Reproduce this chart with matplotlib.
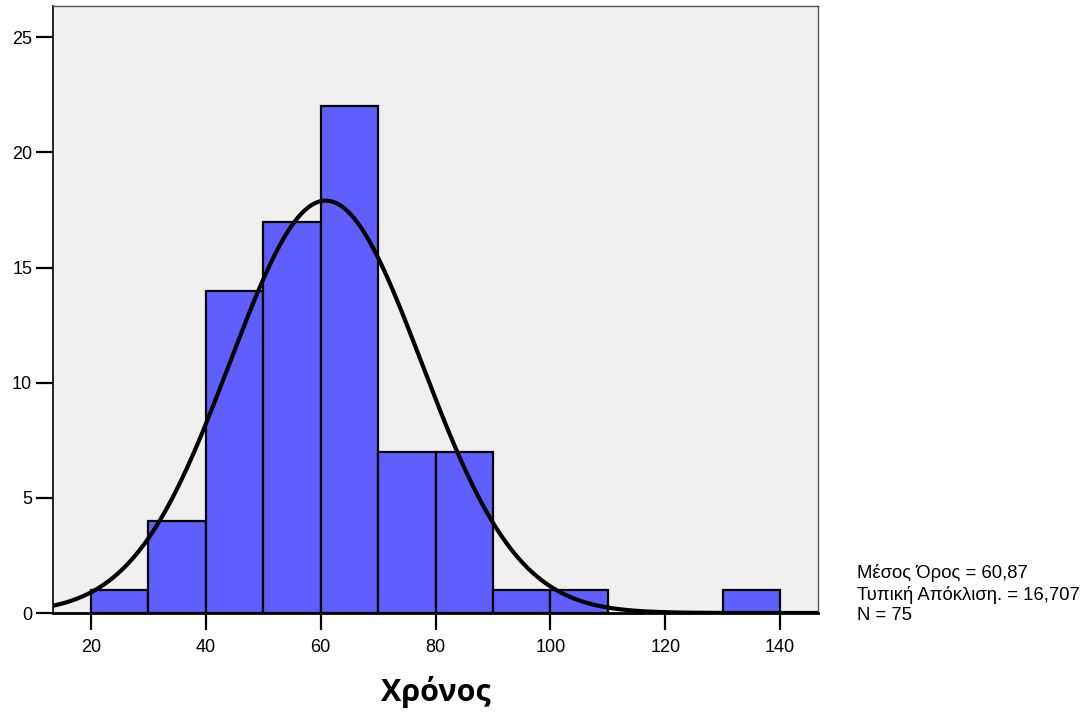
import numpy as np
import matplotlib
matplotlib.use("Agg")
import matplotlib.pyplot as plt

plt.rcParams['font.family'] = ['Liberation Sans', 'DejaVu Sans']

bin_edges = [20, 30, 40, 50, 60, 70, 80, 90, 100, 110, 120, 130, 140]
counts = [1, 4, 14, 17, 22, 7, 7, 1, 1, 0, 0, 1]
mean = 60.87
sd = 16.707
n = 75
xticks = [20, 40, 60, 80, 100, 120, 140]
yticks = [0, 5, 10, 15, 20, 25]

fig = plt.figure(figsize=(10.92, 7.15), dpi=100)
ax = fig.add_axes([53/1092, 1-613/715, (818-53)/1092, (613-6)/715])
ax.set_facecolor('#F0F0F0')

lefts = bin_edges[:-1]
widths = np.diff(bin_edges)
for l, w, c in zip(lefts, widths, counts):
    if c > 0:
        ax.bar(l, c, width=w, align='edge', color='#5F5FFF', edgecolor='black', linewidth=1.6, zorder=2)

xs = np.linspace(13.38, 146.6, 500)
binw = 10
ys = n * binw * np.exp(-0.5 * ((xs - mean) / sd) ** 2) / (sd * np.sqrt(2 * np.pi))
ax.plot(xs, ys, color='black', linewidth=3, zorder=3, solid_capstyle='round')

ax.set_xlim(13.38, 146.6)
ax.set_ylim(0, 26.36)
ax.set_xticks(xticks)
ax.set_yticks(yticks)
ax.tick_params(axis='both', direction='out', length=12, width=1.6, labelsize=13, color='black')
ax.tick_params(axis='x', pad=7)
ax.tick_params(axis='y', pad=3)

for s in ['left', 'bottom']:
    ax.spines[s].set_color('black')
    ax.spines[s].set_linewidth(1.2)
for s in ['top', 'right']:
    ax.spines[s].set_color('#555555')
    ax.spines[s].set_linewidth(1.0)
ax.spines['bottom'].set_linewidth(2)

ax.set_xlabel('Χρόνος', fontsize=22, fontweight='bold', labelpad=14,
              family=['Open Sans', 'DejaVu Sans'])

stats = 'Μέσος Όρος = 60,87\nΤυπική Απόκλιση. = 16,707\nN = 75'
fig.text(857/1092, 1-594/715, stats, fontsize=13.3, va='center', ha='left', linespacing=1.28)

fig.savefig('out.png', dpi=100)
